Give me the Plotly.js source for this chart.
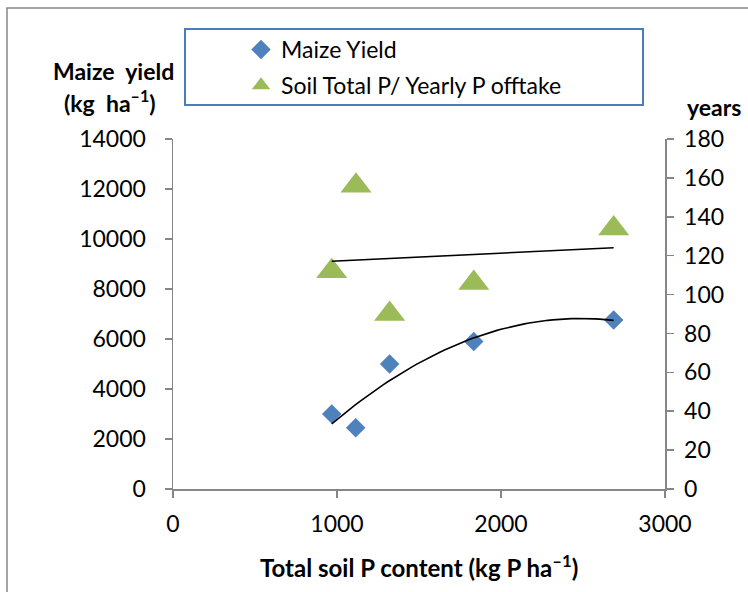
<!DOCTYPE html>
<html>
<head>
<meta charset="utf-8">
<script src="https://cdn.plot.ly/plotly-3.0.1.min.js"></script>
<style>html,body{margin:0;padding:0;background:#fff;}#chart{width:748px;height:592px;}</style>
</head>
<body>
<div id="chart"></div>
<script>
// Data
const soilP = [968, 1114, 1321, 1834, 2687];          // Total soil P content (kg P ha-1)
const maizeYield = [3000, 2450, 5000, 5900, 6760];     // kg ha-1 (left axis)
const soilP2 = [968, 1116, 1321, 1834, 2687];
const yearsRatio = [112, 156, 90, 106, 134];           // years (right axis)
const xTicks = [0, 1000, 2000, 3000];
const yTicks = [0, 2000, 4000, 6000, 8000, 10000, 12000, 14000];
const y2Ticks = [0, 20, 40, 60, 80, 100, 120, 140, 160, 180];

// least squares polynomial fit
function polyfit(xs, ys, deg) {
  const n = deg + 1;
  const mx = xs.reduce((a, b) => a + b, 0) / xs.length;
  const A = [], B = [];
  for (let i = 0; i < n; i++) { A.push(new Array(n).fill(0)); B.push(0); }
  xs.forEach((x, k) => {
    const t = (x - mx) / 1000;
    for (let i = 0; i < n; i++) {
      for (let j = 0; j < n; j++) A[i][j] += Math.pow(t, i + j);
      B[i] += ys[k] * Math.pow(t, i);
    }
  });
  for (let i = 0; i < n; i++) {
    let p = i;
    for (let r = i + 1; r < n; r++) if (Math.abs(A[r][i]) > Math.abs(A[p][i])) p = r;
    [A[i], A[p]] = [A[p], A[i]]; [B[i], B[p]] = [B[p], B[i]];
    for (let r = i + 1; r < n; r++) {
      const f = A[r][i] / A[i][i];
      for (let c = i; c < n; c++) A[r][c] -= f * A[i][c];
      B[r] -= f * B[i];
    }
  }
  const c = new Array(n).fill(0);
  for (let i = n - 1; i >= 0; i--) {
    let s = B[i];
    for (let j = i + 1; j < n; j++) s -= A[i][j] * c[j];
    c[i] = s / A[i][i];
  }
  return x => { const t = (x - mx) / 1000; return c.reduce((s, ci, i) => s + ci * Math.pow(t, i), 0); };
}
function trend(xs, ys, deg, steps) {
  const f = polyfit(xs, ys, deg);
  const lo = Math.min(...xs), hi = Math.max(...xs);
  const tx = [], ty = [];
  for (let i = 0; i <= steps; i++) { const x = lo + (hi - lo) * i / steps; tx.push(x); ty.push(f(x)); }
  return {x: tx, y: ty};
}
const tYield = trend(soilP, maizeYield, 2, 60);
const tYears = trend(soilP2, yearsRatio, 1, 2);

const FONT = 'Lato, "Open Sans", sans-serif';
const AX = '#868686';

const traces = [
  {x: soilP, y: maizeYield, type: 'scatter', mode: 'markers', name: 'Maize Yield',
   legendgroup: 'a', marker: {symbol: 'diamond', size: 15, color: '#4F81BD'}},
  {x: soilP2, y: yearsRatio, type: 'scatter', mode: 'markers', name: 'Soil Total P/ Yearly P offtake',
   yaxis: 'y2', legendgroup: 'b', marker: {symbol: 'triangle-up', size: 27, color: '#9BBB59'}},
  {x: tYield.x, y: tYield.y, type: 'scatter', mode: 'lines', showlegend: false,
   line: {color: '#000', width: 1.6}, hoverinfo: 'skip'},
  {x: tYears.x, y: tYears.y, type: 'scatter', mode: 'lines', yaxis: 'y2', showlegend: false,
   line: {color: '#000', width: 1.6}, hoverinfo: 'skip'}
];

const L = 173, R = 665, T = 139, Bt = 489;
const W = R - L, H = Bt - T;
const px = v => (v - L) / W;
const py = v => (Bt - v) / H;

const layout = {
  width: 748, height: 592,
  margin: {l: L, r: 748 - R, t: T, b: 592 - Bt},
  paper_bgcolor: '#fff', plot_bgcolor: '#fff',
  font: {family: FONT, size: 23, color: '#000'},
  showlegend: true,
  legend: {x: px(241), y: py(28), xanchor: 'left', yanchor: 'top', bgcolor: 'rgba(0,0,0,0)',
           font: {family: FONT, size: 23, color: '#000'}, traceorder: 'grouped', tracegroupgap: 3},
  xaxis: {range: [0, 3000], tickvals: xTicks, ticktext: xTicks.map(String), showgrid: false, zeroline: false,
          showline: true, linecolor: AX, linewidth: 1.5, ticks: 'outside', ticklen: 7, tickcolor: AX, tickwidth: 1.5,
          ticklabelstandoff: 7, tickfont: {size: 23}},
  yaxis: {range: [0, 14000], tickvals: yTicks, ticktext: yTicks.map(String), showgrid: false, zeroline: false,
          showline: true, linecolor: AX, linewidth: 1.5, ticks: 'outside', ticklen: 7, tickcolor: AX, tickwidth: 1.5,
          ticklabelstandoff: 14, tickfont: {size: 23}},
  yaxis2: {range: [0, 180], tickvals: y2Ticks, ticktext: y2Ticks.map(String), overlaying: 'y', side: 'right',
           showgrid: false, zeroline: false, showline: true, linecolor: AX, linewidth: 1.5, ticks: 'outside',
           ticklen: 7, tickcolor: AX, tickwidth: 1.5, ticklabelstandoff: 6, tickfont: {size: 23}},
  shapes: [
    {type: 'rect', xref: 'paper', yref: 'paper', x0: px(7), x1: px(760), y0: py(600), y1: py(8),
     line: {color: AX, width: 1.5}, fillcolor: 'rgba(0,0,0,0)', layer: 'below'},
    {type: 'rect', xref: 'paper', yref: 'paper', x0: px(185), x1: px(643), y0: py(105), y1: py(29),
     line: {color: '#4A7EBB', width: 2}, fillcolor: 'rgba(0,0,0,0)'}
  ],
  annotations: [
    {text: '<b>Maize  yield</b>', xref: 'paper', yref: 'paper', x: px(113), y: py(71), showarrow: false,
     xanchor: 'center', yanchor: 'middle', font: {size: 23}},
    {text: '<b>(kg  ha<sup>–1</sup>)</b>', xref: 'paper', yref: 'paper', x: px(110), y: py(101), showarrow: false,
     xanchor: 'center', yanchor: 'middle', font: {size: 23}},
    {text: '<b>years</b>', xref: 'paper', yref: 'paper', x: px(714), y: py(107), showarrow: false,
     xanchor: 'center', yanchor: 'middle', font: {size: 23}},
    {text: '<b>Total soil P content (kg P ha<sup>–1</sup>)</b>', xref: 'paper', yref: 'paper', x: px(419), y: py(566),
     showarrow: false, xanchor: 'center', yanchor: 'middle', font: {size: 24}}
  ]
};

Plotly.newPlot('chart', traces, layout, {displayModeBar: false, staticPlot: true});
</script>
</body>
</html>
